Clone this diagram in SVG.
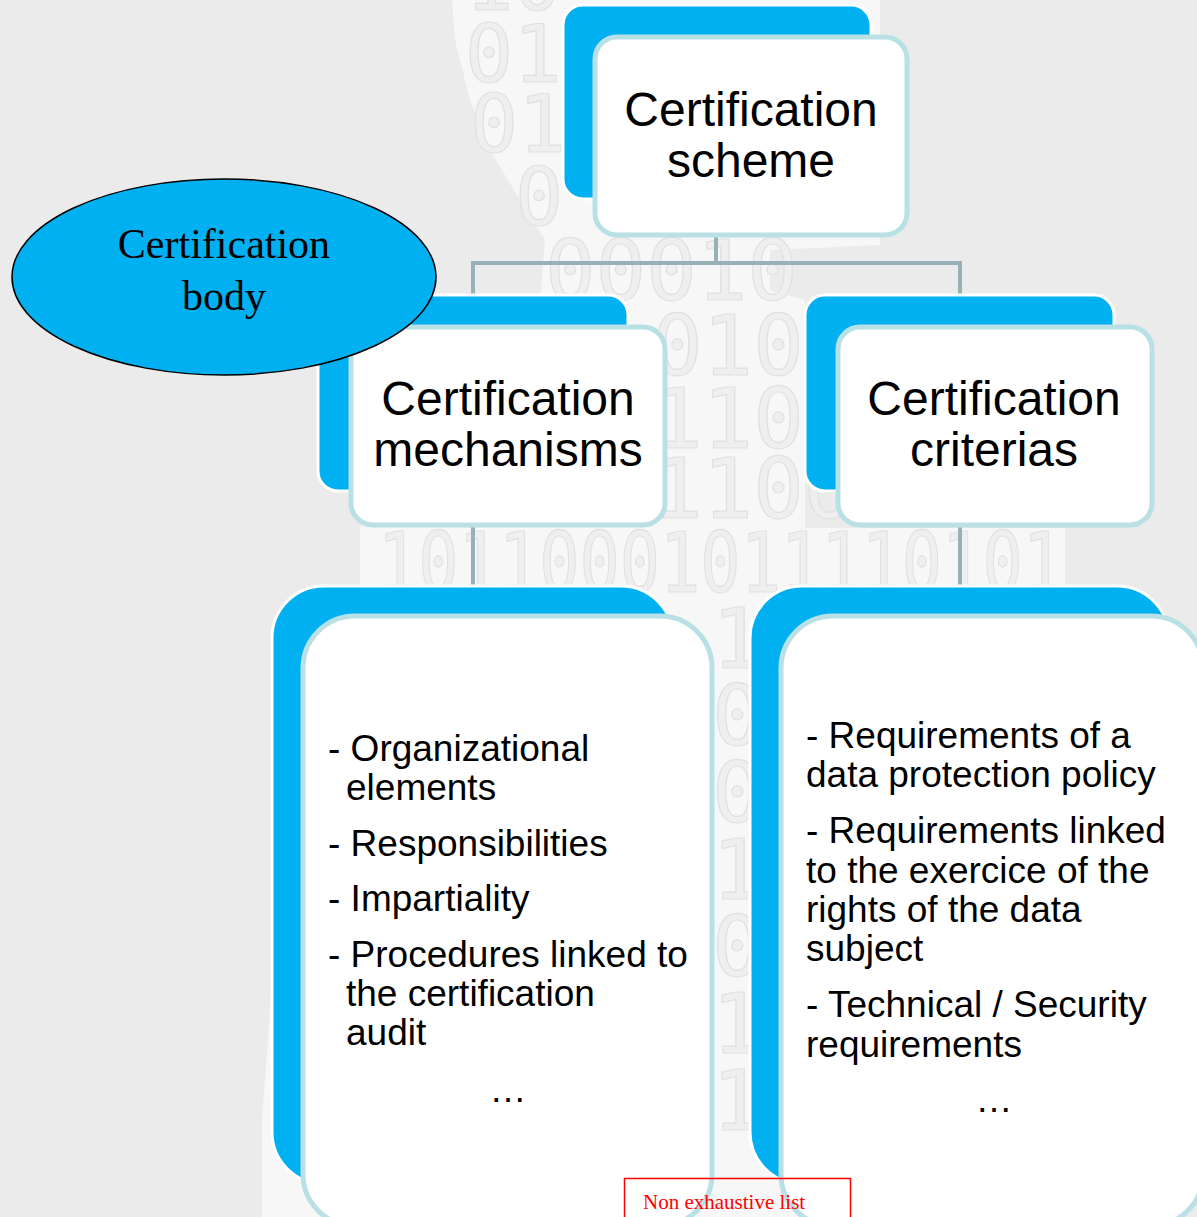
<svg xmlns="http://www.w3.org/2000/svg" width="1197" height="1217" viewBox="0 0 1197 1217">
  <style>
    .back { fill: #00b0f0; stroke: #ffffff; stroke-width: 3; }
    .front { fill: #ffffff; stroke: #b9e0e5; stroke-width: 5; }
    .title { font-family: "Liberation Sans", Arial, sans-serif; font-size: 48px; fill: #000; text-anchor: middle; }
    .item { font-family: "Liberation Sans", Arial, sans-serif; font-size: 37px; fill: #000; }
    .dots { font-family: "Liberation Sans", Arial, sans-serif; font-size: 37px; fill: #000; text-anchor: middle; }
    .digits { font-family: "DejaVu Sans Mono", "Liberation Mono", monospace; fill: #efefef; stroke: #e0e0e0; stroke-width: 1.2; }
    .link { fill: none; stroke: #97b2b6; stroke-width: 4; }
  </style>

  <!-- backdrop -->
  <rect x="0" y="0" width="1197" height="1217" fill="#ebebeb"/>
  <path d="M452,0 L880,0 L880,245 L770,250 L770,290 L805,300 L805,528 L1065,528 L1065,1217 L262,1217 L262,1120 L300,600 L360,590 L360,528 L540,300 L545,240 L520,200 L490,150 L470,100 L455,40 Z" fill="#f7f7f7"/>

  <!-- binary figure -->
  <g class="digits">
    <text x="465" y="10" font-size="80">10</text>
    <text x="465" y="82" font-size="80">01</text>
    <text x="470" y="152" font-size="80">01</text>
    <text x="515" y="225" font-size="80">0</text>
    <text x="545" y="300" font-size="84">00010</text>
    <text x="652" y="375" font-size="84">0101</text>
    <text x="652" y="448" font-size="84">1100</text>
    <text x="652" y="518" font-size="84">1100</text>
    <text x="378" y="592" font-size="84" textLength="685" lengthAdjust="spacingAndGlyphs">10110001011110101</text>
    <text x="712" y="668" font-size="84">1</text>
    <text x="712" y="745" font-size="84">0</text>
    <text x="712" y="822" font-size="84">0</text>
    <text x="712" y="899" font-size="84">1</text>
    <text x="712" y="976" font-size="84">0</text>
    <text x="712" y="1053" font-size="84">1</text>
    <text x="712" y="1130" font-size="84">1</text>
  </g>

  <!-- tree connectors -->
  <g id="connectors">
    <path class="link" d="M716,235 V263 M473,298 V263 H960 V298"/>
    <path class="link" d="M473,525 V590"/>
    <path class="link" d="M960,525 V590"/>
  </g>

  <!-- root node -->
  <g id="node-scheme">
    <rect class="back" x="563" y="5" width="308" height="194" rx="20"/>
    <rect class="front" x="595" y="37" width="312" height="198" rx="22"/>
    <text class="title" x="751" y="126">Certification</text>
    <text class="title" x="751" y="177">scheme</text>
  </g>

  <g id="node-mechanisms">
    <rect class="back" x="318" y="295" width="310" height="196" rx="20"/>
    <rect class="front" x="351" y="327" width="314" height="198" rx="22"/>
    <text class="title" x="508" y="415">Certification</text>
    <text class="title" x="508" y="466">mechanisms</text>
  </g>

  <g id="node-criterias">
    <rect class="back" x="805" y="295" width="309" height="196" rx="20"/>
    <rect class="front" x="838" y="327" width="314" height="198" rx="22"/>
    <text class="title" x="994" y="415">Certification</text>
    <text class="title" x="994" y="466">criterias</text>
  </g>

  <g id="node-mechanisms-list">
    <rect class="back" x="272" y="586" width="401" height="598" rx="52"/>
    <rect class="front" x="303" y="616" width="409" height="610" rx="52"/>
    <text class="item" x="328" y="761">- Organizational</text>
    <text class="item" x="346" y="800">elements</text>
    <text class="item" x="328" y="856">- Responsibilities</text>
    <text class="item" x="328" y="911">- Impartiality</text>
    <text class="item" x="328" y="967">- Procedures linked to</text>
    <text class="item" x="346" y="1006">the certification</text>
    <text class="item" x="346" y="1045">audit</text>
    <text class="dots" x="508" y="1102">…</text>
  </g>

  <g id="node-criterias-list">
    <rect class="back" x="750" y="586" width="419" height="598" rx="52"/>
    <rect class="front" x="781" y="616" width="422" height="610" rx="52"/>
    <text class="item" x="806" y="748">- Requirements of a</text>
    <text class="item" x="806" y="787">data protection policy</text>
    <text class="item" x="806" y="843">- Requirements linked</text>
    <text class="item" x="806" y="883">to the exercice of the</text>
    <text class="item" x="806" y="922">rights of the data</text>
    <text class="item" x="806" y="961">subject</text>
    <text class="item" x="806" y="1017">- Technical / Security</text>
    <text class="item" x="806" y="1057">requirements</text>
    <text class="dots" x="994" y="1112">…</text>
  </g>

  <!-- certification body, laid over the mechanisms node -->
  <g id="node-body">
    <ellipse cx="224" cy="277" rx="212" ry="98" fill="#00b0f0" stroke="#000" stroke-width="1.5"/>
    <text x="224" y="258" font-family="'Liberation Serif', 'Times New Roman', serif" font-size="42" text-anchor="middle">Certification</text>
    <text x="224" y="310" font-family="'Liberation Serif', 'Times New Roman', serif" font-size="42" text-anchor="middle">body</text>
  </g>

  <g id="note">
    <rect x="624.5" y="1178.5" width="226" height="45" fill="none" stroke="#ff0000" stroke-width="1.5"/>
    <text x="643" y="1209" font-family="'Liberation Serif', 'Times New Roman', serif" font-size="21" fill="#ff0000">Non exhaustive list</text>
  </g>
</svg>
